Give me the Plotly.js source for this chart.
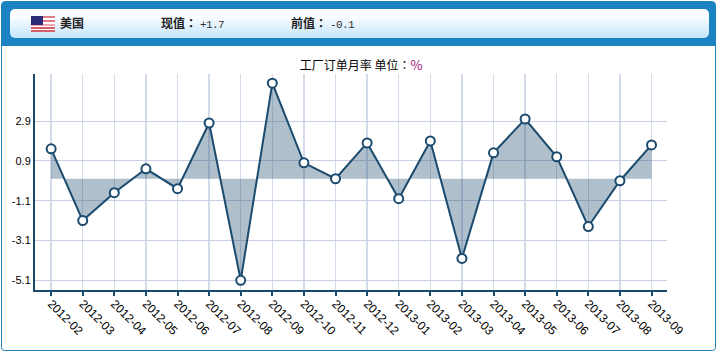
<!DOCTYPE html>
<html><head><meta charset="utf-8">
<script src="https://cdn.plot.ly/plotly-3.0.1.min.js"></script>
<style>
html,body{margin:0;padding:0;background:#fff;overflow:hidden}
#wrap{position:relative;width:718px;height:353px;overflow:hidden}
#bg{position:absolute;left:0;top:0}
#chart{position:absolute;left:0;top:0;width:718px;height:353px}
.h{position:absolute;top:15px;line-height:16px;white-space:nowrap;color:#222;font-size:12px;font-family:"Noto Sans CJK TC",sans-serif;font-weight:700}
.v{font-family:"Liberation Mono","DejaVu Sans Mono",monospace;font-weight:400;font-size:11px;letter-spacing:-0.6px;color:#333;margin-left:3px}
</style></head><body>
<div id="wrap">
<svg id="bg" width="718" height="353" xmlns="http://www.w3.org/2000/svg">
<defs><linearGradient id="g" x1="0" y1="0" x2="0" y2="1"><stop offset="0" stop-color="#ffffff"/><stop offset="0.25" stop-color="#fbfdff"/><stop offset="1" stop-color="#c4e5fc"/></linearGradient></defs>
<rect x="1.5" y="3" width="714" height="347.5" rx="3" fill="#fff" stroke="#2a7fb5" stroke-width="1"/>
<path d="M1 46V6Q1 1 6 1H711Q716 1 716 6V46Z" fill="#1c83c2"/>
<rect x="10" y="9" width="699" height="29" rx="5" fill="url(#g)"/>
<g>
<rect x="31" y="16" width="24" height="16" fill="#fff"/>
<rect x="31" y="16" width="24" height="2" fill="#e07e8a"/>
<rect x="31" y="20" width="24" height="2" fill="#e07e8a"/>
<rect x="31" y="24" width="24" height="2" fill="#f0a8b0"/>
<rect x="31" y="27" width="24" height="2" fill="#d8606e"/>
<rect x="31" y="30" width="24" height="2" fill="#d8606e"/>
<rect x="31" y="16" width="12" height="9" fill="#2b2b78"/>
</g>
</svg>
<div id="chart"></div>
<div class="h" style="left:60px">美国</div>
<div class="h" style="left:161px">现值：<span class="v">+1.7</span></div>
<div class="h" style="left:291px">前值：<span class="v">-0.1</span></div>
</div>
<script>
var months = ["2012-02","2012-03","2012-04","2012-05","2012-06","2012-07","2012-08","2012-09","2012-10","2012-11","2012-12","2013-01","2013-02","2013-03","2013-04","2013-05","2013-06","2013-07","2013-08","2013-09"];
var values = [1.5,-2.1,-0.7,0.5,-0.5,2.8,-5.1,4.8,0.8,0.0,1.8,-1.0,1.9,-4.0,1.3,3.0,1.1,-2.4,-0.1,1.7];
var yTicks = [-5.1,-3.1,-1.1,0.9,2.9];
var yLabels = ["-5.1","-3.1","-1.1","0.9","2.9"];
var titleText = '工厂订单月率 单位：<span style="color:#a0107a;font-size:13px">%</span>';
var trace = {
  type:'scatter', mode:'lines+markers', x:months, y:values,
  fill:'tozeroy', fillcolor:'rgba(26,74,110,0.35)',
  line:{color:'#1a4a6e',width:2},
  marker:{size:9,color:'#fff',line:{color:'#1a4a6e',width:2}},
  hoverinfo:'x+y', cliponaxis:false
};
var layout = {
  width:718,height:353,
  margin:{l:35,r:51,t:74,b:63,pad:0},
  paper_bgcolor:'rgba(0,0,0,0)',plot_bgcolor:'rgba(0,0,0,0)',
  showlegend:false,
  font:{family:'"Liberation Sans",Arial,sans-serif',size:12,color:'#000'},
  title:{text:titleText,x:0.516,xref:'paper',xanchor:'center',y:1,yref:'container',yanchor:'top',pad:{t:62},
    font:{family:'"Noto Sans CJK TC",sans-serif',size:12,color:'#000'}},
  xaxis:{type:'category',range:[-0.51,19.49],tickmode:'array',tickvals:months,ticktext:months,tickangle:45,
    showgrid:true,gridcolor:'#d3daea',gridwidth:1.5,zeroline:false,
    showline:true,linecolor:'#1a4a6e',linewidth:2,ticks:'outside',ticklen:4,tickwidth:2,tickcolor:'#1a4a6e',
    ticklabelstandoff:-4,
    tickfont:{size:12,color:'#000'}},
  yaxis:{range:[-5.587,5.26],tickmode:'array',tickvals:yTicks,ticktext:yLabels,
    showgrid:true,gridcolor:'#c8d1e4',gridwidth:1,zeroline:false,
    showline:true,linecolor:'#1a4a6e',linewidth:2,ticks:'',
    tickfont:{size:11,color:'#000'}}
};
Plotly.newPlot('chart',[trace],layout,{displayModeBar:false,staticPlot:true});
</script>
</body></html>
